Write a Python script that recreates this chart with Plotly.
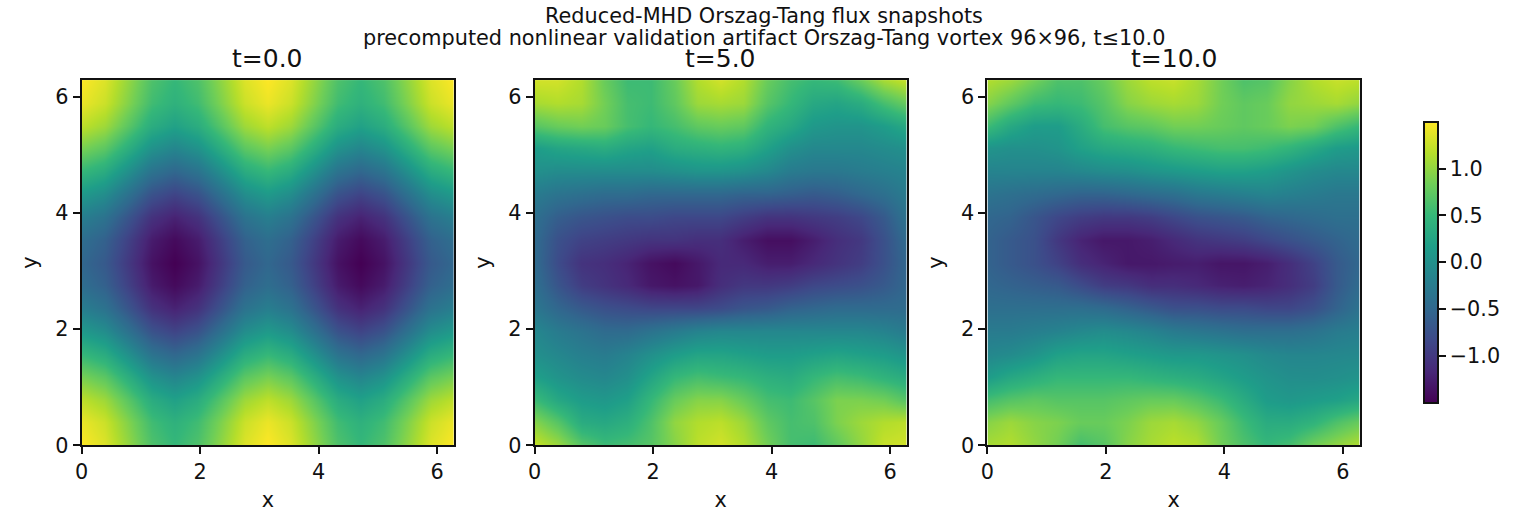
import plotly.graph_objects as go

# Sample coordinates along both periodic directions
grid_x = [0.0, 0.393, 0.785, 1.178, 1.571, 1.963, 2.356, 2.749, 3.142,
          3.534, 3.927, 4.320, 4.712, 5.105, 5.498, 5.890, 6.283]
grid_y = list(grid_x)

snapshot_titles = ["t=0.0", "t=5.0", "t=10.0"]
axis_ticks = [0, 2, 4, 6]
colorbar_ticks = [-1.0, -0.5, 0.0, 0.5, 1.0]

# Flux values, one row per y sample, starting at y=0
flux_t0 = [
    [1.50, 1.35, 1.00, 0.65, 0.50, 0.65, 1.00, 1.35, 1.50, 1.35, 1.00, 0.65, 0.50, 0.65, 1.00, 1.35, 1.50],
    [1.42, 1.27, 0.92, 0.57, 0.42, 0.57, 0.92, 1.27, 1.42, 1.27, 0.92, 0.57, 0.42, 0.57, 0.92, 1.27, 1.42],
    [1.21, 1.06, 0.71, 0.36, 0.21, 0.36, 0.71, 1.06, 1.21, 1.06, 0.71, 0.36, 0.21, 0.36, 0.71, 1.06, 1.21],
    [0.88, 0.73, 0.38, 0.03, -0.12, 0.03, 0.38, 0.73, 0.88, 0.73, 0.38, 0.03, -0.12, 0.03, 0.38, 0.73, 0.88],
    [0.50, 0.35, 0.00, -0.35, -0.50, -0.35, 0.00, 0.35, 0.50, 0.35, 0.00, -0.35, -0.50, -0.35, 0.00, 0.35, 0.50],
    [0.12, -0.03, -0.38, -0.73, -0.88, -0.73, -0.38, -0.03, 0.12, -0.03, -0.38, -0.73, -0.88, -0.73, -0.38, -0.03, 0.12],
    [-0.21, -0.36, -0.71, -1.06, -1.21, -1.06, -0.71, -0.36, -0.21, -0.36, -0.71, -1.06, -1.21, -1.06, -0.71, -0.36, -0.21],
    [-0.42, -0.57, -0.92, -1.27, -1.42, -1.27, -0.92, -0.57, -0.42, -0.57, -0.92, -1.27, -1.42, -1.27, -0.92, -0.57, -0.42],
    [-0.50, -0.65, -1.00, -1.35, -1.50, -1.35, -1.00, -0.65, -0.50, -0.65, -1.00, -1.35, -1.50, -1.35, -1.00, -0.65, -0.50],
    [-0.42, -0.57, -0.92, -1.27, -1.42, -1.27, -0.92, -0.57, -0.42, -0.57, -0.92, -1.27, -1.42, -1.27, -0.92, -0.57, -0.42],
    [-0.21, -0.36, -0.71, -1.06, -1.21, -1.06, -0.71, -0.36, -0.21, -0.36, -0.71, -1.06, -1.21, -1.06, -0.71, -0.36, -0.21],
    [0.12, -0.03, -0.38, -0.73, -0.88, -0.73, -0.38, -0.03, 0.12, -0.03, -0.38, -0.73, -0.88, -0.73, -0.38, -0.03, 0.12],
    [0.50, 0.35, 0.00, -0.35, -0.50, -0.35, 0.00, 0.35, 0.50, 0.35, 0.00, -0.35, -0.50, -0.35, 0.00, 0.35, 0.50],
    [0.88, 0.73, 0.38, 0.03, -0.12, 0.03, 0.38, 0.73, 0.88, 0.73, 0.38, 0.03, -0.12, 0.03, 0.38, 0.73, 0.88],
    [1.21, 1.06, 0.71, 0.36, 0.21, 0.36, 0.71, 1.06, 1.21, 1.06, 0.71, 0.36, 0.21, 0.36, 0.71, 1.06, 1.21],
    [1.42, 1.27, 0.92, 0.57, 0.42, 0.57, 0.92, 1.27, 1.42, 1.27, 0.92, 0.57, 0.42, 0.57, 0.92, 1.27, 1.42],
    [1.50, 1.35, 1.00, 0.65, 0.50, 0.65, 1.00, 1.35, 1.50, 1.35, 1.00, 0.65, 0.50, 0.65, 1.00, 1.35, 1.50],
]

flux_t5 = [
    [1.25, 1.05, 0.70, 0.55, 0.60, 0.70, 0.95, 1.20, 1.30, 1.15, 0.85, 0.60, 0.55, 0.75, 1.00, 1.25, 1.30],
    [0.95, 0.70, 0.35, 0.30, 0.40, 0.65, 1.00, 1.15, 1.20, 1.05, 0.75, 0.60, 0.65, 0.90, 1.05, 1.15, 1.20],
    [0.55, 0.30, 0.15, 0.10, 0.20, 0.50, 0.80, 0.95, 0.95, 0.80, 0.60, 0.55, 0.70, 0.90, 0.90, 0.85, 0.70],
    [0.20, 0.05, -0.05, -0.10, 0.00, 0.25, 0.50, 0.60, 0.55, 0.50, 0.40, 0.35, 0.50, 0.60, 0.55, 0.45, 0.35],
    [0.00, -0.10, -0.20, -0.25, -0.15, 0.00, 0.15, 0.25, 0.25, 0.20, 0.15, 0.15, 0.20, 0.25, 0.20, 0.15, 0.05],
    [-0.10, -0.25, -0.35, -0.45, -0.45, -0.35, -0.25, -0.15, -0.10, -0.10, -0.10, -0.10, -0.10, -0.10, -0.10, -0.15, -0.25],
    [-0.30, -0.50, -0.65, -0.75, -0.80, -0.85, -0.85, -0.85, -0.80, -0.70, -0.65, -0.55, -0.50, -0.45, -0.45, -0.45, -0.45],
    [-0.40, -0.70, -0.95, -1.05, -1.15, -1.30, -1.35, -1.30, -1.10, -1.00, -1.00, -0.95, -0.85, -0.80, -0.75, -0.65, -0.50],
    [-0.45, -0.80, -1.05, -1.10, -1.20, -1.35, -1.42, -1.30, -1.15, -1.15, -1.25, -1.25, -1.15, -1.05, -0.95, -0.75, -0.50],
    [-0.45, -0.75, -0.90, -0.95, -1.00, -1.05, -1.05, -1.10, -1.10, -1.25, -1.38, -1.38, -1.25, -1.10, -1.00, -0.75, -0.45],
    [-0.40, -0.60, -0.70, -0.75, -0.80, -0.80, -0.85, -0.85, -0.85, -0.95, -1.05, -1.05, -1.00, -0.95, -0.85, -0.65, -0.35],
    [-0.25, -0.35, -0.40, -0.45, -0.45, -0.50, -0.50, -0.50, -0.50, -0.55, -0.55, -0.60, -0.65, -0.60, -0.50, -0.40, -0.25],
    [0.00, -0.05, -0.05, -0.05, -0.05, -0.05, 0.00, 0.05, 0.05, 0.00, -0.10, -0.25, -0.30, -0.30, -0.25, -0.20, -0.15],
    [0.15, 0.25, 0.30, 0.35, 0.25, 0.20, 0.35, 0.40, 0.45, 0.40, 0.20, 0.00, -0.10, -0.10, -0.10, -0.05, 0.00],
    [0.70, 0.80, 0.85, 0.80, 0.60, 0.50, 0.60, 0.75, 0.80, 0.75, 0.45, 0.30, 0.10, 0.05, 0.05, 0.15, 0.30],
    [1.10, 1.15, 1.10, 0.85, 0.60, 0.55, 0.75, 1.05, 1.10, 1.05, 0.70, 0.50, 0.30, 0.25, 0.35, 0.60, 0.80],
    [1.30, 1.30, 1.15, 0.80, 0.55, 0.55, 0.80, 1.15, 1.30, 1.15, 0.80, 0.60, 0.50, 0.55, 0.80, 1.10, 1.25],
]

flux_t10 = [
    [1.10, 1.15, 1.00, 0.85, 0.60, 0.70, 0.95, 1.10, 1.20, 1.15, 0.85, 0.65, 0.50, 0.60, 0.85, 1.00, 1.15],
    [0.95, 1.05, 0.95, 0.90, 0.80, 0.80, 0.90, 1.05, 1.10, 1.00, 0.80, 0.55, 0.35, 0.35, 0.45, 0.65, 0.80],
    [0.60, 0.70, 0.75, 0.70, 0.70, 0.70, 0.75, 0.80, 0.80, 0.70, 0.55, 0.35, 0.15, 0.10, 0.15, 0.20, 0.30],
    [0.15, 0.30, 0.40, 0.50, 0.50, 0.50, 0.50, 0.45, 0.40, 0.35, 0.25, 0.15, 0.05, -0.02, -0.03, 0.00, 0.05],
    [-0.10, -0.05, 0.05, 0.20, 0.25, 0.25, 0.20, 0.15, 0.10, 0.10, 0.05, 0.00, -0.08, -0.12, -0.12, -0.10, -0.08],
    [-0.25, -0.25, -0.20, -0.15, -0.08, -0.03, -0.08, -0.15, -0.25, -0.30, -0.35, -0.40, -0.40, -0.40, -0.35, -0.25, -0.20],
    [-0.40, -0.40, -0.40, -0.40, -0.40, -0.45, -0.55, -0.65, -0.75, -0.75, -0.80, -0.80, -0.85, -0.85, -0.75, -0.55, -0.35],
    [-0.50, -0.55, -0.60, -0.65, -0.80, -0.95, -1.00, -1.10, -1.10, -1.15, -1.22, -1.25, -1.20, -1.10, -0.95, -0.65, -0.45],
    [-0.55, -0.65, -0.75, -0.90, -1.10, -1.20, -1.30, -1.30, -1.27, -1.25, -1.32, -1.32, -1.25, -1.10, -0.90, -0.65, -0.50],
    [-0.55, -0.65, -0.75, -1.00, -1.20, -1.30, -1.30, -1.25, -1.15, -1.05, -1.00, -0.95, -0.85, -0.75, -0.65, -0.55, -0.45],
    [-0.50, -0.55, -0.70, -0.85, -0.95, -1.00, -1.00, -0.95, -0.85, -0.75, -0.70, -0.65, -0.55, -0.50, -0.45, -0.40, -0.40],
    [-0.35, -0.40, -0.45, -0.50, -0.55, -0.55, -0.50, -0.45, -0.40, -0.30, -0.25, -0.20, -0.15, -0.20, -0.25, -0.30, -0.30],
    [-0.15, -0.15, -0.15, -0.15, -0.10, -0.05, -0.02, 0.05, 0.10, 0.15, 0.20, 0.20, 0.15, 0.05, -0.05, -0.10, -0.10],
    [0.05, 0.00, 0.00, 0.05, 0.20, 0.30, 0.35, 0.40, 0.50, 0.55, 0.60, 0.60, 0.55, 0.45, 0.30, 0.15, 0.10],
    [0.55, 0.30, 0.15, 0.15, 0.35, 0.60, 0.70, 0.75, 0.85, 0.85, 0.80, 0.75, 0.80, 0.90, 0.85, 0.65, 0.50],
    [0.95, 0.75, 0.55, 0.50, 0.55, 0.70, 0.95, 1.05, 1.10, 1.05, 0.85, 0.75, 0.80, 1.00, 1.05, 1.10, 1.00],
    [1.15, 1.05, 0.85, 0.65, 0.65, 0.80, 1.05, 1.20, 1.25, 1.10, 0.85, 0.65, 0.70, 0.95, 1.15, 1.25, 1.20],
]

WIDTH, HEIGHT = 1520, 512
FONT = "DejaVu Sans"
INK = "#111111"
TICK_SIZE = 20.8

panel_left_px = [75, 530, 985]
panel_size_px = 374
panel_top_px = 82

fig = go.Figure()
annotations = []

for i, (flux, title) in enumerate(zip([flux_t0, flux_t5, flux_t10], snapshot_titles)):
    suffix = "" if i == 0 else str(i + 1)
    fig.add_trace(go.Heatmap(
        x=grid_x, y=grid_y, z=flux,
        coloraxis="coloraxis", zsmooth="best",
        xaxis="x" + suffix, yaxis="y" + suffix,
    ))
    left = panel_left_px[i]
    common = dict(
        range=[0, 6.283], tickvals=axis_ticks, ticks="outside", ticklen=7, tickwidth=2,
        tickcolor=INK, showline=True, linewidth=2, linecolor=INK, mirror=True,
        showgrid=False, zeroline=False, tickfont=dict(family=FONT, size=TICK_SIZE, color=INK),
    )
    fig.update_layout({
        "xaxis" + suffix: dict(
            common, domain=[left / WIDTH, (left + panel_size_px) / WIDTH],
            anchor="y" + suffix,
            title=dict(text="x", font=dict(family=FONT, size=TICK_SIZE, color=INK), standoff=12),
        ),
        "yaxis" + suffix: dict(
            common,
            domain=[1 - (panel_top_px + panel_size_px) / HEIGHT, 1 - panel_top_px / HEIGHT],
            anchor="x" + suffix,
            title=dict(text="y", font=dict(family=FONT, size=TICK_SIZE, color=INK), standoff=12),
        ),
    })
    annotations.append(dict(
        text=title, x=(left + panel_size_px / 2) / WIDTH, y=1 - 60 / HEIGHT,
        xref="paper", yref="paper", xanchor="center", yanchor="middle", showarrow=False,
        font=dict(family=FONT, size=25, color=INK),
    ))

for line, centre_y in (("Reduced-MHD Orszag-Tang flux snapshots", 16),
                       ("precomputed nonlinear validation artifact Orszag-Tang vortex 96×96, t≤10.0", 39)):
    annotations.append(dict(
        text=line, x=760 / WIDTH, y=1 - centre_y / HEIGHT,
        xref="paper", yref="paper", xanchor="center", yanchor="middle", showarrow=False,
        font=dict(family=FONT, size=TICK_SIZE, color=INK),
    ))

fig.update_layout(
    width=WIDTH, height=HEIGHT, margin=dict(l=0, r=0, t=0, b=0),
    paper_bgcolor="white", plot_bgcolor="white", showlegend=False,
    annotations=annotations,
    coloraxis=dict(
        colorscale="Viridis", cmin=-1.5, cmax=1.5,
        colorbar=dict(
            x=1424 / WIDTH, xanchor="left", xpad=0,
            y=1 - 268.5 / HEIGHT, yanchor="middle", ypad=0,
            thicknessmode="pixels", thickness=14, lenmode="pixels", len=281,
            outlinewidth=2, outlinecolor=INK,
            tickvals=colorbar_ticks, tickformat=".1f",
            ticks="outside", ticklen=7, tickwidth=2, tickcolor=INK,
            tickfont=dict(family=FONT, size=TICK_SIZE, color=INK),
        ),
    ),
)

fig.write_html("out.html", config={"displayModeBar": False})
